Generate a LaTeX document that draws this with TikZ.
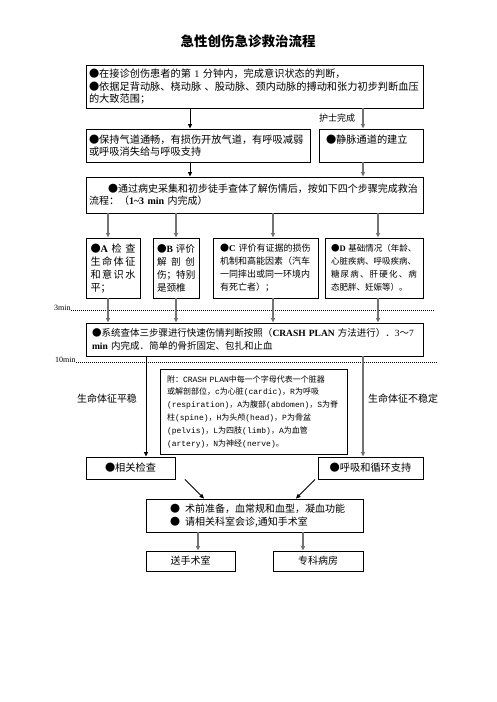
\documentclass[tikz,border=0pt]{standalone}
\usepackage{fontspec}
\setmainfont{Noto Sans CJK SC}
\setmonofont{Liberation Mono}
\newfontfamily\lser{Liberation Serif}
\usetikzlibrary{arrows.meta}
\newcommand{\fsz}[2]{\fontsize{#1}{#2}\selectfont}
\newcommand{\mtt}[1]{{\ttfamily #1}}
\newcommand{\bser}[1]{{\lser\bfseries #1}}
\newcommand{\jline}[2]{\leavevmode\hbox to #1{#2}}
\begin{document}
\begin{tikzpicture}[x=1pt,y=-1pt,
  box/.style={draw, line width=0.9pt, align=left, inner ysep=0pt, anchor=center},
  arr/.style={line width=0.9pt, -{Triangle[length=4.5pt,width=4pt]}},
  garr/.style={arr, draw=black!55, fill=black!55, line width=1.3pt},
  lbl/.style={inner sep=0pt, font=\fsz{9.5}{11}},
  tlbl/.style={inner sep=0pt, font=\lser\fsz{8}{9}, anchor=base west},
  dots/.style={line width=0.6pt, dash pattern=on 0.6pt off 1.4pt}]
\useasboundingbox (0,0) rectangle (496,702);

% column coordinates
\coordinate (k1) at (190,0);
\coordinate (k2) at (363,0);
\coordinate (cA) at (108,0);
\coordinate (cB) at (176,0);
\coordinate (cC) at (273,0);
\coordinate (cD) at (378,0);
\coordinate (m1) at (146,0);
\coordinate (f1) at (185,0);
\coordinate (f2) at (204,0);
\coordinate (f3) at (315,0);
\coordinate (f4) at (296,0);
\coordinate (e1) at (198,0);
\coordinate (e2) at (303,0);

\node[font=\fsz{13.5}{15}\bfseries] (title) at (248,41) {急性创伤急诊救治流程};

\node[box, inner xsep=3pt, minimum width=337pt, minimum height=43pt, text width=331pt, font=\fsz{10.2}{12.3}] (b1) at (254.5,86.5)
{\mbox{●在接诊创伤患者的第 {\lser 1} 分钟内，完成意识状态的判断，}\\\mbox{●依据足背动脉、桡动脉 、股动脉、颈内动脉的搏动和张力初步判断血压}\\的大致范围；};

\node[box, inner xsep=3pt, minimum width=224pt, minimum height=33pt, text width=218pt, font=\fsz{10.2}{12.5}] (b2l) at (198,145.5)
{●保持气道通畅，有损伤开放气道，有呼吸减弱\\或呼吸消失给与呼吸支持};

\node[box, inner xsep=7pt, minimum width=104pt, minimum height=33pt, text width=90pt, font=\fsz{10.2}{12.5}] (b2r) at (371,145.5)
{●静脉通道的建立\\\mbox{}};

\node[box, inner xsep=3pt, minimum width=337pt, minimum height=36pt, text width=331pt, font=\fsz{10}{12}] (b3) at (254.5,195)
{\mbox{\hspace*{19pt}●通过病史采集和初步徒手查体了解伤情后，按如下四个步骤完成救治}\\\mbox{流程：（\bser{1\char"7E 3 min} 内完成）}};

\node[box, inner xsep=4.5pt, minimum width=54pt, minimum height=60pt, text width=45pt, font=\fsz{10.2}{13}] (bA) at (113,268)
{\jline{45pt}{●\bser{A}\hfill 检\hfill 查}\\\jline{45pt}{生\hfill 命\hfill 体\hfill 征}\\\jline{45pt}{和\hfill 意\hfill 识\hfill 水}\\平；};

\node[box, inner xsep=4pt, minimum width=46pt, minimum height=60pt, text width=38pt, font=\fsz{9.6}{13}] (bB) at (176,268)
{\jline{38pt}{●\bser{B}\hfill 评价}\\\jline{38pt}{解\hfill 剖\hfill 创}\\伤；特别\\是颈椎};

\node[box, inner xsep=7pt, minimum width=105pt, minimum height=60pt, text width=91pt, font=\fsz{9}{13}] (bC) at (265.5,268)
{\mbox{●\bser{C} 评价有证据的损伤}\\机制和高能因素（汽车\\一同摔出或同一环境内\\有死亡者）；};

\node[box, inner xsep=6pt, minimum width=98pt, minimum height=60pt, text width=86pt, font=\fsz{8.5}{13}] (bD) at (374,268)
{\mbox{●\bser{D} 基础情况（年龄、}\\心脏疾病、呼吸疾病、\\\jline{86pt}{糖\hfill 尿\hfill 病\hfill 、\hfill 肝\hfill 硬\hfill 化\hfill 、\hfill 病}\\态肥胖、妊娠等）。};

\node[box, inner xsep=6pt, minimum width=337pt, minimum height=33pt, text width=325pt, font=\fsz{9.5}{12.5}] (b4) at (254.5,339.5)
{\mbox{●系统查体三步骤进行快速伤情判断按照（\bser{CRASH PLAN} 方法进行）．{\lser 3}～{\lser 7}}\\\mbox{\bser{min} 内完成．简单的骨折固定、包扎和止血}};

\node[box, inner xsep=7pt, minimum width=187pt, minimum height=85pt, text width=173pt, font=\fsz{8}{12.8}] (note) at (253.5,411.5)
{\mbox{附：\mtt{CRASH PLAN}中每一个字母代表一个脏器}\\或解剖部位，\mtt{c}为心脏\mtt{(cardic)}，\mtt{R}为呼吸\\\mtt{(respiration)}，\mtt{A}为腹部\mtt{(abdomen)}，\mtt{S}为脊\\柱\mtt{(spine)}，\mtt{H}为头颅\mtt{(head)}，\mtt{P}为骨盆\\\mtt{(pelvis)}，\mtt{L}为四肢\mtt{(limb)}，\mtt{A}为血管\\\mtt{(artery)}，\mtt{N}为神经\mtt{(nerve)}。};

\node[box, align=center, minimum width=89pt, minimum height=22pt, font=\fsz{10.2}{12}] (c1) at (130.5,468) {●相关检查};
\node[box, align=center, minimum width=105pt, minimum height=22pt, font=\fsz{10.2}{12}] (c2) at (370.5,468) {●呼吸和循环支持};

\node[box, inner xsep=24pt, minimum width=217pt, minimum height=33pt, text width=169pt, font=\fsz{10}{13}] (b5) at (254.5,515.5)
{\mbox{●\hspace{5pt}术前准备，血常规和血型，凝血功能}\\\mbox{●\hspace{5pt}请相关科室会诊,通知手术室}};

\node[box, align=center, minimum width=89pt, minimum height=20pt, font=\fsz{10}{12}] (d1) at (190.5,561) {送手术室};
\node[box, align=center, minimum width=90pt, minimum height=20pt, font=\fsz{10}{12}] (d2) at (318,561) {专科病房};

% labels
\node[lbl, font=\fsz{9}{10}] (nurse) at (337,118) {护士完成};
\node[lbl, font=\fsz{10}{12}] (stable) at (107,399) {生命体征平稳};
\node[lbl, font=\fsz{10}{12}] (unstable) at (403,399) {生命体征不稳定};

% time lines
\node[tlbl] (t3) at (54,310) {3min};
\coordinate (t3e) at (433,310);
\draw[dots] (t3.base east) -- (t3e);
\node[tlbl] (t10) at (55,362) {10min};
\coordinate (t10e) at (437,362);
\draw[dots] (t10.base east) -- (t10e);

% connectors
\draw[arr] (b1.south -| k1) -- (b2l.north -| k1);
\draw[garr] (b1.south -| k2) -- (b2r.north -| k2);
\draw[arr] (b2l.south -| k1) -- (b3.north -| k1);
\draw[garr] (b2r.south -| k2) -- (b3.north -| k2);

\draw[garr] (b3.south -| cA) -- (bA.north -| cA);
\draw[garr] (b3.south -| cB) -- (bB.north -| cB);
\draw[garr] (b3.south -| cC) -- (bC.north -| cC);
\draw[garr] (b3.south -| cD) -- (bD.north -| cD);

\draw[garr] (bA.south -| cA) -- (b4.north -| cA);
\draw[garr] (bB.south -| cB) -- (b4.north -| cB);
\draw[garr] (bC.south -| cC) -- (b4.north -| cC);
\draw[garr] (bD.south -| cD) -- (b4.north -| cD);

\draw[arr] (b4.south -| m1) -- (c1.north -| m1);
\draw[garr] (b4.south -| k2) -- (c2.north -| k2);

\draw[arr] (c1.south -| f1) -- (b5.north -| f2);
\draw[arr] (c2.south -| f3) -- (b5.north -| f4);

\draw[garr] (b5.south -| e1) -- (d1.north -| e1);
\draw[garr] (b5.south -| e2) -- (d2.north -| e2);
\end{tikzpicture}
\end{document}
